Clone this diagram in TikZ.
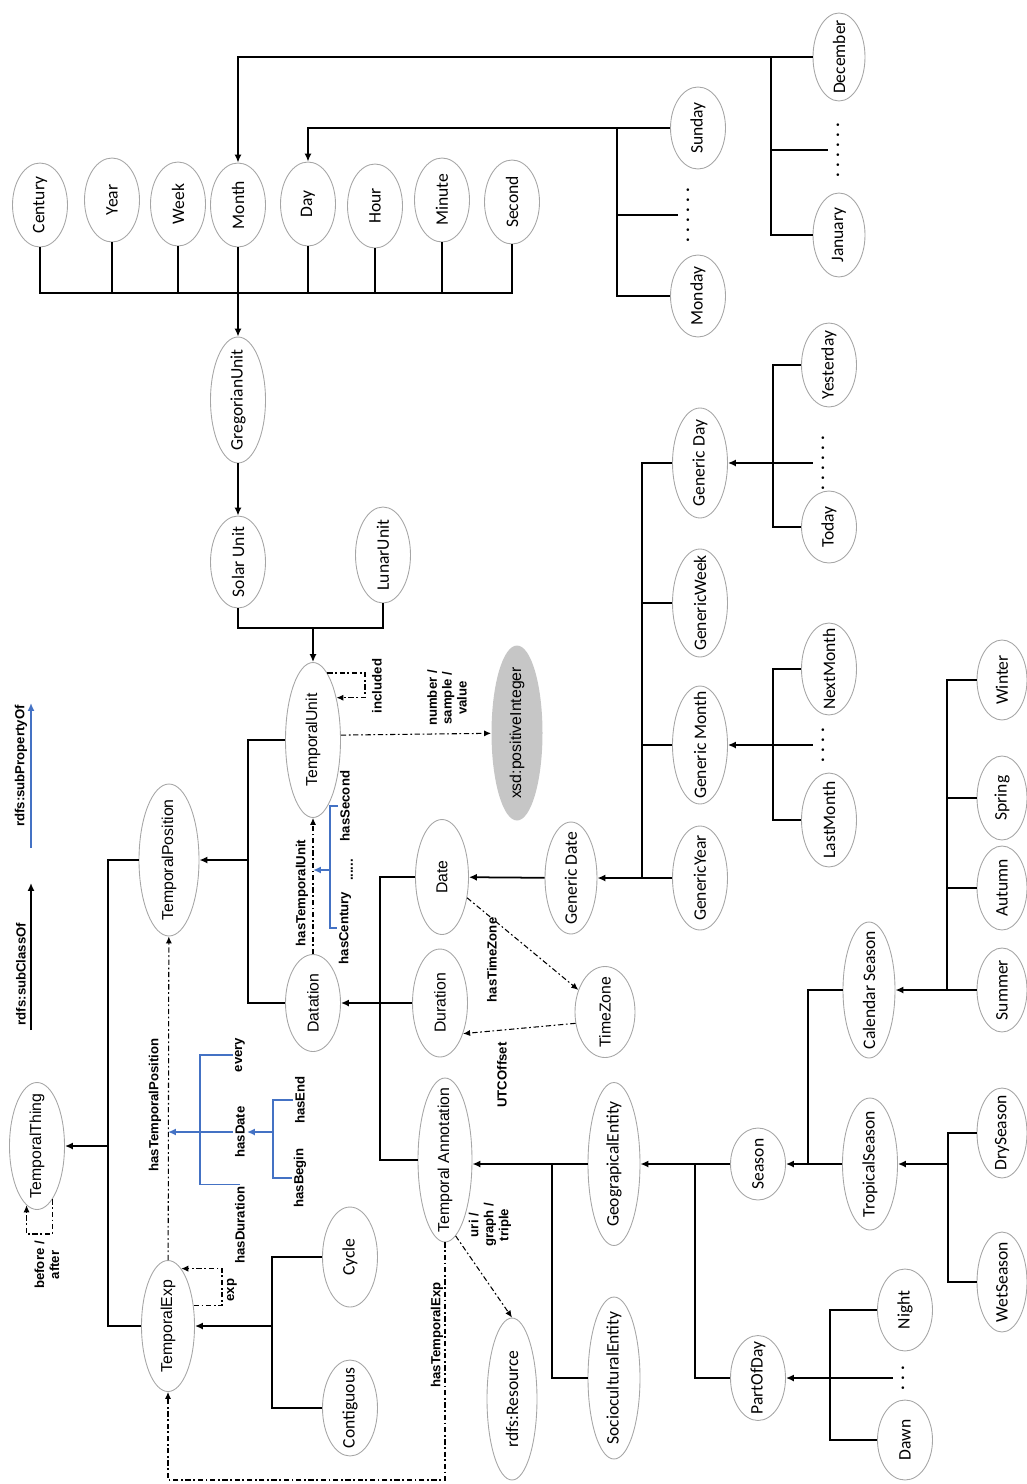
\documentclass[tikz,border=0pt]{standalone}
\usepackage{fontspec}
\setmainfont{Carlito}
\newfontfamily\arialfont{Liberation Sans}
\usepackage{tikz}
\usetikzlibrary{shapes,arrows.meta,positioning,calc}
\definecolor{subprop}{RGB}{68,114,196}

\begin{document}
\begin{tikzpicture}[
    x=0.02cm, y=-0.02cm,
    ent/.style={ellipse, draw=gray!70, line width=0.5pt, rotate=90, inner sep=0pt, minimum height=1.1cm, font=\fontsize{10}{12}\selectfont, execute at begin node={\hbox to 0pt\bgroup\hss}, execute at end node={\hss\egroup}},
    enta/.style={ent, font=\arialfont\fontsize{9}{11}\selectfont},
    len/.style={minimum width=#1*0.02cm},
    wid/.style={minimum height=#1*0.02cm},
    lbl/.style={rotate=90, align=center, inner sep=1pt, font=\arialfont\bfseries\fontsize{7.5}{8.5}\selectfont},
    dots/.style={rotate=90, inner sep=5pt, font=\bfseries\fontsize{10}{12}\selectfont},
    link/.style={line width=1pt},
    arrow/.style={link, -{Latex[length=4.5pt,width=4pt]}},
    prop/.style={line width=0.6pt, dash pattern=on 3pt off 1.5pt on 1pt off 1.5pt, -{Latex[length=4pt,width=3.5pt]}},
    sub/.style={line width=1pt, subprop},
    subarrow/.style={sub, -{Latex[length=4.5pt,width=4pt]}}
]
\useasboundingbox (0,0) rectangle (1027,1484);

\node[ent, len=84] (century) at (40,205) {Century};
\node[ent, len=84] (year) at (112,200) {Year};
\node[ent, len=84] (week) at (178,204) {Week};
\node[ent, len=84] (month) at (238,205) {Month};
\node[ent, len=84] (day) at (308,204) {Day};
\node[ent, len=84] (hour) at (375,206) {Hour};
\node[ent, len=84] (minute) at (442,200) {Minute};
\node[ent, len=84] (second) at (512,202) {Second};
\node[ent, len=88, wid=52] (december) at (839,57) {December};
\node[ent, len=84, wid=52] (january) at (839,235) {January};
\node[dots] (mdots) at (838,150) {. . . . . .};
\node[ent, len=82] (sunday) at (698,128) {Sunday};
\node[ent, len=82] (monday) at (698,296) {Monday};
\node[dots] (ddots) at (688,215) {. . . . . .};
\node[ent, len=126] (gregorian) at (238,400) {GregorianUnit};
\node[ent, len=92] (solar) at (238,562) {Solar Unit};
\node[ent, len=96] (lunar) at (383,555) {LunarUnit};

\node[ent, len=110] (gday) at (700,463) {Generic Day};
\node[ent, len=108] (gweek) at (700,603) {GenericWeek};
\node[ent, len=118] (gmonth) at (700,745) {Generic Month};
\node[ent, len=104] (gyear) at (700,878) {GenericYear};
\node[ent, len=112, wid=52] (gdate) at (571,878) {Generic Date};
\node[ent, len=84] (yesterday) at (829,365) {Yesterday};
\node[ent, len=72] (today) at (829,527) {Today};
\node[dots] (ydots) at (823,463) {. . . . . .};
\node[ent, len=92] (nextmonth) at (829,669) {NextMonth};
\node[ent, len=94] (lastmonth) at (829,820) {LastMonth};
\node[dots] (ndots) at (823,745) {. . . .};

\node[ent, len=80, wid=50] (winter) at (1002,680) {Winter};
\node[ent, len=84, wid=50] (spring) at (1002,798) {Spring};
\node[ent, len=84, wid=50] (autumn) at (1002,888) {Autumn};
\node[ent, len=84, wid=50] (summer) at (1002,990) {Summer};
\node[ent, len=90, wid=50] (dryseason) at (1002,1133) {DrySeason};
\node[ent, len=100, wid=50] (wetseason) at (1002,1282) {WetSeason};
\node[ent, len=136, wid=52] (calseason) at (869,990) {Calendar Season};
\node[ent, len=132] (tropseason) at (870,1164) {TropicalSeason};
\node[ent, len=72] (season) at (758,1164) {Season};
\node[ent, len=85] (partofday) at (758,1378) {PartOfDay};
\node[ent, len=82] (night) at (905,1310) {Night};
\node[ent, len=80] (dawn) at (905,1440) {Dawn};
\node[dots] (pdots) at (903,1378) {. . .};
\node[ent, len=163, wid=52] (geoentity) at (614,1164) {GeograpicalEntity};
\node[ent, len=162, wid=52] (socioentity) at (614,1378) {SocioculturalEntity};
\node[ent, len=162, wid=50] (resource) at (512,1399) {rdfs:Resource};
\node[ent, len=100] (cycle) at (350,1257) {Cycle};
\node[ent, len=96] (contiguous) at (350,1408) {Contiguous};

\node[enta, len=127] (tthing) at (37,1146) {TemporalThing};
\node[enta, len=131, wid=53] (texp) at (168,1326) {TemporalExp};
\node[enta, len=152, wid=60] (tpos) at (169,860) {TemporalPosition};
\node[enta, len=155] (tunit) at (313,740) {TemporalUnit};
\node[enta, len=97] (datation) at (313,1003) {Datation};
\node[enta, len=115, wid=53] (date) at (442,877) {Date};
\node[enta, len=108] (duration) at (440,1003) {Duration};
\node[enta, len=91, wid=60] (timezone) at (605,1012) {TimeZone};
\node[enta, len=164, wid=54] (tannot) at (445,1160) {Temporal Annotation};
\node[enta, len=175, wid=51, draw=none, fill=gray!45] (xsd) at (517,733) {xsd:positiveInteger};

\node[lbl] (lsubc) at (21,974) {rdfs:subClassOf};
\node[lbl] (lsubp) at (21,766) {rdfs:subPropertyOf};
\node[lbl] (lbefore) at (47,1265) {before /\\after};
\node[lbl] (lexp) at (232,1290) {exp};
\node[lbl] (lhtp) at (155,1105) {hasTemporalPosition};
\node[lbl] (hasduration) at (240,1225) {hasDuration};
\node[lbl] (hasdate) at (240,1132) {hasDate};
\node[lbl] (every) at (240,1055) {every};
\node[lbl] (hasbegin) at (300,1178) {hasBegin};
\node[lbl] (hasend) at (300,1100) {hasEnd};
\node[lbl] (lhtu) at (302,893) {hasTemporalUnit};
\node[lbl] (hascentury) at (345,928) {hasCentury};
\node[lbl] (hassecond) at (345,806) {hasSecond};
\node[lbl] (hdots) at (352,870) {......};
\node[lbl] (lincl) at (377,686) {included};
\node[lbl] (lnum) at (447,698) {number /\\sample /\\value};
\node[lbl] (lhtz) at (492,960) {hasTimeZone};
\node[lbl] (lutc) at (502,1075) {UTCOffset};
\node[lbl] (luri) at (490,1225) {uri /\\graph /\\triple};
\node[lbl] (lhte) at (437,1335) {hasTemporalExp};

\coordinate (gu) at (238,293);
\draw[link] (century) |- (gu) -| (second);
\foreach \n in {year,week,month,day,hour,minute}
    \draw[link] (\n) -- (\n |- gu);
\draw[arrow] (gu) -- (gregorian);
\draw[arrow] (gregorian) -- (solar);
\coordinate (sl) at (313,628);
\draw[link] (solar) |- (sl) -| (lunar);
\draw[arrow] (sl) -- (tunit);

\coordinate (dj) at (771,57);
\draw[arrow] (december) -| (month);
\draw[link] (dj) |- (january);
\draw[link] (mdots) -- (mdots -| dj);
\coordinate (sm) at (617,128);
\draw[arrow] (sunday) -| (day);
\draw[link] (sm) |- (monday);
\draw[link] (ddots) -- (ddots -| sm);

\coordinate (gd) at (642,878);
\draw[link] (gday) -| (gd);
\draw[link] (gweek) -- (gweek -| gd);
\draw[link] (gmonth) -- (gmonth -| gd);
\draw[arrow] (gyear) -- (gdate);
\draw[arrow] (gdate) -- (date);
\coordinate (gdy) at (773,463);
\draw[link] (yesterday) -| (gdy) |- (today);
\draw[arrow] (ydots) -- (gday);
\coordinate (gmn) at (773,745);
\draw[link] (nextmonth) -| (gmn) |- (lastmonth);
\draw[arrow] (ndots) -- (gmonth);

\coordinate (cs) at (947,990);
\draw[link] (winter) -| (cs);
\draw[link] (spring) -- (spring -| cs);
\draw[link] (autumn) -- (autumn -| cs);
\draw[arrow] (summer) -- (calseason);
\coordinate (ts) at (948,1164);
\draw[link] (dryseason) -| (ts) |- (wetseason);
\draw[arrow] (ts) -- (tropseason);
\coordinate (ss) at (808,1164);
\draw[link] (calseason) -| (ss);
\draw[arrow] (tropseason) -- (season);
\coordinate (pd) at (830,1378);
\draw[link] (night) -| (pd) |- (dawn);
\draw[arrow] (pdots) -- (partofday);
\coordinate (ge) at (695,1164);
\draw[arrow] (season) -- (geoentity);
\draw[link] (ge) |- (partofday);
\coordinate (ta) at (552,1164);
\draw[arrow] (geoentity) -- (geoentity -| tannot.south);
\draw[link] (ta) |- (socioentity);

\coordinate (dt) at (380,1003);
\draw[link] (date) -| (dt) |- (tannot);
\draw[link] (duration) -- (dt);
\draw[arrow] (dt) -- (datation);
\coordinate (tp) at (248,860);
\draw[link] (tunit) -| (tp) |- (datation);
\draw[arrow] (tp) -- (tpos);
\coordinate (tt) at (108,1146);
\draw[link] (tpos) -| (tt) |- (texp);
\draw[arrow] (tt) -- (tthing);
\coordinate (te) at (272,1326);
\draw[link] (cycle) -| (te) |- (contiguous);
\draw[arrow] (te) -- (texp);

\draw[prop] (datation) -- (tunit);
\draw[prop] (texp) -- (tpos);
\draw[prop] (tunit.-80) -- (xsd);
\draw[prop] (date) -- (timezone);
\draw[prop] (timezone.111) -- (duration.-143);
\draw[prop] (tannot.-172) -- (resource.east);
\coordinate (hte) at (300,1480);
\draw[prop] (tannot.west) |- (hte) -| (texp.west);
\coordinate (inc) at (365,686);
\draw[prop] (tunit.-12) -| (inc) |- (tunit.-29);
\coordinate (exl) at (222,1288);
\draw[prop] (texp.-52) -| (exl) |- (texp.-13);
\coordinate (bal) at (40,1234);
\draw[prop] (tthing.-164) |- (bal) -| (tthing.170);

\coordinate (hu) at (330,870);
\draw[sub] (hassecond) -| (hu) |- (hascentury);
\draw[subarrow] (hu) -- (hu -| tunit);
\coordinate (hdt) at (273,1132);
\draw[sub] (hasend) -| (hdt) |- (hasbegin);
\draw[subarrow] (hdt) -- (hasdate);
\coordinate (hps) at (200,1132);
\draw[sub] (every) -| (hps) |- (hasduration.east);
\draw[subarrow] (hasdate) -- (hasdate -| texp);

\coordinate (lca) at (31,1030);
\coordinate (lcb) at (31,883);
\draw[arrow] (lca) -- (lcb);
\coordinate (lpa) at (31,848);
\coordinate (lpb) at (31,703);
\draw[subarrow] (lpa) -- (lpb);
\end{tikzpicture}
\end{document}
